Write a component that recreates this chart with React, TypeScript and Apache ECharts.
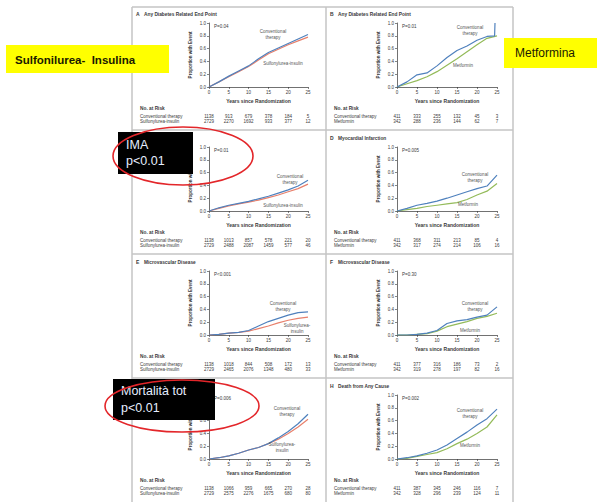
import React, { useEffect, useRef } from "react";
import * as echarts from "echarts";

// ---------- data ----------
const years = [0, 2.5, 5, 7.5, 10, 12.5, 15, 17.5, 20, 22.5, 25];
const yearsB = [0, 2.5, 5, 7.5, 10, 12.5, 15, 17.5, 20, 22.5, 24.4, 24.5];
const xTicks = [0, 5, 10, 15, 20, 25];

const aConv = [0, 0.08, 0.17, 0.25, 0.33, 0.44, 0.54, 0.61, 0.68, 0.75, 0.82];
const aSulf = [0, 0.08, 0.16, 0.24, 0.32, 0.42, 0.52, 0.59, 0.66, 0.72, 0.78];
const bConv = [0, 0.08, 0.19, 0.22, 0.33, 0.46, 0.57, 0.64, 0.73, 0.79, 0.8, 1.0];
const bMet = [0, 0.05, 0.1, 0.16, 0.24, 0.34, 0.44, 0.55, 0.66, 0.76, 0.8];
const cConv = [0, 0.05, 0.09, 0.12, 0.15, 0.19, 0.23, 0.28, 0.33, 0.39, 0.48];
const cSulf = [0, 0.04, 0.08, 0.11, 0.14, 0.17, 0.21, 0.25, 0.3, 0.35, 0.42];
const dConv = [0, 0.04, 0.09, 0.12, 0.155, 0.2, 0.25, 0.3, 0.35, 0.39, 0.56];
const dMet = [0, 0.02, 0.04, 0.07, 0.09, 0.11, 0.13, 0.18, 0.25, 0.31, 0.43];
const eConv = [0, 0.01, 0.03, 0.04, 0.07, 0.14, 0.21, 0.26, 0.31, 0.35, 0.36];
const eSulf = [0, 0.01, 0.03, 0.04, 0.06, 0.1, 0.14, 0.19, 0.23, 0.26, 0.28];
const fConv = [0, 0, 0.01, 0.03, 0.07, 0.18, 0.22, 0.24, 0.28, 0.31, 0.44];
const fMet = [0, 0, 0.01, 0.02, 0.06, 0.13, 0.17, 0.21, 0.26, 0.29, 0.34];
const gConv = [0, 0.02, 0.05, 0.09, 0.14, 0.18, 0.24, 0.33, 0.43, 0.55, 0.7];
const gSulf = [0, 0.02, 0.05, 0.09, 0.14, 0.18, 0.24, 0.31, 0.4, 0.5, 0.62];
const hConv = [0, 0.02, 0.05, 0.09, 0.14, 0.22, 0.32, 0.42, 0.53, 0.63, 0.78];
const hMet = [0, 0.01, 0.04, 0.07, 0.1, 0.16, 0.24, 0.31, 0.4, 0.5, 0.69];

const riskAConv = [1138, 913, 679, 378, 184, 5];
const riskASulf = [2729, 2270, 1692, 933, 377, 12];
const riskBConv = [411, 333, 255, 132, 45, 3];
const riskBMet = [342, 288, 236, 144, 62, 7];
const riskCConv = [1138, 1013, 857, 578, 221, 20];
const riskCSulf = [2729, 2488, 2087, 1459, 577, 46];
const riskDConv = [411, 368, 311, 213, 85, 4];
const riskDMet = [342, 317, 274, 214, 106, 16];
const riskEConv = [1138, 1018, 844, 508, 172, 13];
const riskESulf = [2729, 2465, 2076, 1348, 480, 33];
const riskFConv = [411, 377, 316, 186, 73, 2];
const riskFMet = [342, 319, 278, 197, 82, 16];
const riskGConv = [1138, 1066, 959, 665, 270, 28];
const riskGSulf = [2729, 2575, 2276, 1675, 680, 80];
const riskHConv = [411, 387, 345, 246, 116, 7];
const riskHMet = [342, 328, 296, 239, 124, 11];

const letters = ["A", "B", "C", "D", "E", "F", "G", "H"];
const titles = [
  "Any Diabetes Related End Point",
  "Any Diabetes Related End Point",
  "Myocardial Infarction",
  "Myocardial Infarction",
  "Microvascular Disease",
  "Microvascular Disease",
  "Death from Any Cause",
  "Death from Any Cause",
];
const pValues = ["P=0.04", "P=0.01", "P=0.01", "P=0.005", "P<0.001", "P=0.30", "P=0.006", "P=0.002"];
const convName = "Conventional therapy";
const sulfName = "Sulfonylurea-insulin";
const metName = "Metformin";

const panels = [
  { c1: aConv, x1: years, c2: aSulf, x2: years, r1: riskAConv, r2: riskASulf, other: sulfName, lab2: "Sulfonylurea-insulin" },
  { c1: bConv, x1: yearsB, c2: bMet, x2: years, r1: riskBConv, r2: riskBMet, other: metName, lab2: "Metformin" },
  { c1: cConv, x1: years, c2: cSulf, x2: years, r1: riskCConv, r2: riskCSulf, other: sulfName, lab2: "Sulfonylurea-insulin" },
  { c1: dConv, x1: years, c2: dMet, x2: years, r1: riskDConv, r2: riskDMet, other: metName, lab2: "Metformin" },
  { c1: eConv, x1: years, c2: eSulf, x2: years, r1: riskEConv, r2: riskESulf, other: sulfName, lab2: "Sulfonylurea-\ninsulin" },
  { c1: fConv, x1: years, c2: fMet, x2: years, r1: riskFConv, r2: riskFMet, other: metName, lab2: "Metformin" },
  { c1: gConv, x1: years, c2: gSulf, x2: years, r1: riskGConv, r2: riskGSulf, other: sulfName, lab2: "Sulfonylurea-\ninsulin" },
  { c1: hConv, x1: years, c2: hMet, x2: years, r1: riskHConv, r2: riskHMet, other: metName, lab2: "Metformin" },
];

// ---------- layout ----------
const FONT = "Liberation Sans, Arial, sans-serif";
const frameX = [132, 326, 513];
const gridLeft = [209, 397];
const gridW = [99, 100];
const rowTop = [23, 147, 271, 395];
const gridH = 64;
const hLines = [7, 130, 254, 378];
// label block centers relative to grid (left, top)
const lab1Pos = [[64, 11.5], [73, 7], [81, 32.5], [78, 30], [74, 35.5], [78, 35.5], [78, 16.5], [73, 18]];
const lab2Pos = [[74, 40], [66, 42], [74, 58], [71, 57], [88, 57.5], [73, 59], [73, 52.5], [73, 50]];

const BLUE = "#4f81bd";
const RED = "#e8806c";
const GREEN = "#94bb5a";
const TXT = "#3a3a3a";

function txt(x: number, y: number, text: string, opt: any = {}) {
  return {
    type: "text",
    x,
    y,
    z: opt.z ?? 10,
    style: {
      text,
      fill: opt.fill ?? TXT,
      fontSize: opt.size ?? 4.5,
      fontWeight: opt.weight ?? "normal",
      fontFamily: opt.family ?? FONT,
      align: opt.align ?? "left",
      verticalAlign: "middle",
      lineHeight: opt.lh ?? 6,
    },
  };
}

export default function App() {
  const ref = useRef<HTMLDivElement>(null);
  useEffect(() => {
    if (!ref.current) return;
    const chart = echarts.init(ref.current, null, { renderer: "svg" });
    const grids: any[] = [];
    const xAxes: any[] = [];
    const yAxes: any[] = [];
    const series: any[] = [];
    const graphic: any[] = [];

    // frame lines
    frameX.forEach((x) =>
      graphic.push({ type: "line", z: 1, shape: { x1: x, y1: 7, x2: x, y2: 502 }, style: { stroke: "#c4c4c4", lineWidth: 1.5 } })
    );
    hLines.forEach((y) =>
      graphic.push({ type: "line", z: 1, shape: { x1: frameX[0], y1: y, x2: frameX[2], y2: y }, style: { stroke: "#c4c4c4", lineWidth: 1.5 } })
    );

    panels.forEach((p, i) => {
      const col = i % 2;
      const row = Math.floor(i / 2);
      const L = gridLeft[col];
      const W = gridW[col];
      const T = rowTop[row];
      const FL = frameX[col];
      const otherColor = col === 0 ? RED : GREEN;
      grids.push({ left: L, top: T, width: W, height: gridH, containLabel: false });
      xAxes.push({
        type: "value",
        gridIndex: i,
        min: 0,
        max: 25,
        interval: 5,
        name: "Years since Randomization",
        nameLocation: "middle",
        nameGap: 11,
        nameTextStyle: { fontSize: 5, fontWeight: "bold", color: TXT, fontFamily: FONT },
        axisLine: { lineStyle: { color: "#333", width: 0.7 } },
        axisTick: { length: 2, lineStyle: { color: "#333", width: 0.6 } },
        axisLabel: { fontSize: 4.5, color: TXT, margin: 3, fontFamily: FONT },
        splitLine: { show: false },
      });
      yAxes.push({
        type: "value",
        gridIndex: i,
        min: 0,
        max: 1,
        interval: 0.2,
        name: "Proportion with Event",
        nameLocation: "middle",
        nameGap: 16,
        nameTextStyle: { fontSize: 4.5, fontWeight: "bold", color: TXT, fontFamily: FONT },
        axisLine: { show: true, lineStyle: { color: "#333", width: 0.7 } },
        axisTick: { show: true, length: 2, lineStyle: { color: "#333", width: 0.6 } },
        axisLabel: { fontSize: 4.5, color: TXT, margin: 3, fontFamily: FONT, formatter: (v: number) => v.toFixed(1) },
        splitLine: { show: false },
      });
      series.push({
        type: "line",
        name: p.other,
        xAxisIndex: i,
        yAxisIndex: i,
        symbol: "none",
        lineStyle: { color: otherColor, width: 1.2 },
        data: p.x2.map((x, k) => [x, p.c2[k]]),
      });
      series.push({
        type: "line",
        name: convName,
        xAxisIndex: i,
        yAxisIndex: i,
        symbol: "none",
        lineStyle: { color: BLUE, width: 1.2 },
        data: p.x1.map((x, k) => [x, p.c1[k]]),
      });

      // title
      graphic.push(txt(FL + 4, T - 9, letters[i], { size: 5, weight: "bold" }));
      graphic.push(txt(FL + 12, T - 9, titles[i], { size: 4.8, weight: "bold" }));
      // p-value
      graphic.push(txt(L + 5, T + 3, pValues[i], { size: 4.5 }));
      // curve labels
      graphic.push(txt(L + lab1Pos[i][0], T + lab1Pos[i][1], "Conventional\ntherapy", { align: "center", size: 4.5, fill: "#555" }));
      graphic.push(txt(L + lab2Pos[i][0], T + lab2Pos[i][1], p.lab2, { align: "center", size: 4.5, fill: "#555" }));
      // risk table
      graphic.push(txt(FL + 8, T + 85, "No. at Risk", { size: 4.8, weight: "bold" }));
      graphic.push(txt(FL + 8, T + 93, convName, { size: 4.5 }));
      graphic.push(txt(FL + 8, T + 98.5, p.other, { size: 4.5 }));
      xTicks.forEach((t, k) => {
        const cx = L + (t / 25) * W;
        graphic.push(txt(cx, T + 93, String(p.r1[k]), { size: 4.5, align: "center" }));
        graphic.push(txt(cx, T + 98.5, String(p.r2[k]), { size: 4.5, align: "center" }));
      });
    });

    // annotations
    graphic.push({ type: "rect", z: 50, shape: { x: 6, y: 45, width: 163, height: 28 }, style: { fill: "#ffff00" } });
    graphic.push(txt(15, 60, "Sulfonilurea-  Insulina", { size: 11.5, weight: "bold", fill: "#1a1a00", z: 51, family: "Liberation Sans, Arial, sans-serif" }));
    graphic.push({ type: "rect", z: 50, shape: { x: 504, y: 38, width: 93, height: 30 }, style: { fill: "#ffff00" } });
    graphic.push(txt(515, 53, "Metformina", { size: 12, fill: "#1a1a00", z: 51 }));

    graphic.push({ type: "rect", z: 60, shape: { x: 118, y: 132, width: 75, height: 42 }, style: { fill: "#000" } });
    graphic.push(txt(126, 144.5, "IMA", { size: 12.5, fill: "#e6eeff", z: 61 }));
    graphic.push(txt(126, 160.5, "p<0.01", { size: 12.5, fill: "#e6eeff", z: 61 }));
    graphic.push({ type: "ellipse", z: 62, shape: { cx: 183, cy: 156, rx: 70, ry: 29 }, style: { fill: "none", stroke: "#e3262a", lineWidth: 1.6 } });

    graphic.push({ type: "rect", z: 60, shape: { x: 113, y: 379, width: 102, height: 41 }, style: { fill: "#000" } });
    graphic.push(txt(121, 391, "Mortalità tot", { size: 12.5, fill: "#e6eeff", z: 61 }));
    graphic.push(txt(121, 408, "p<0.01", { size: 12.5, fill: "#e6eeff", z: 61 }));
    graphic.push({ type: "ellipse", z: 62, shape: { cx: 182, cy: 406, rx: 77, ry: 26 }, style: { fill: "none", stroke: "#e3262a", lineWidth: 1.6 } });

    chart.setOption({
      animation: false,
      backgroundColor: "#ffffff",
      grid: grids,
      xAxis: xAxes,
      yAxis: yAxes,
      series,
      graphic,
    });
    return () => chart.dispose();
  }, []);
  return <div ref={ref} style={{ position: "absolute", left: 0, top: 0, width: 601, height: 502 }} />;
}
